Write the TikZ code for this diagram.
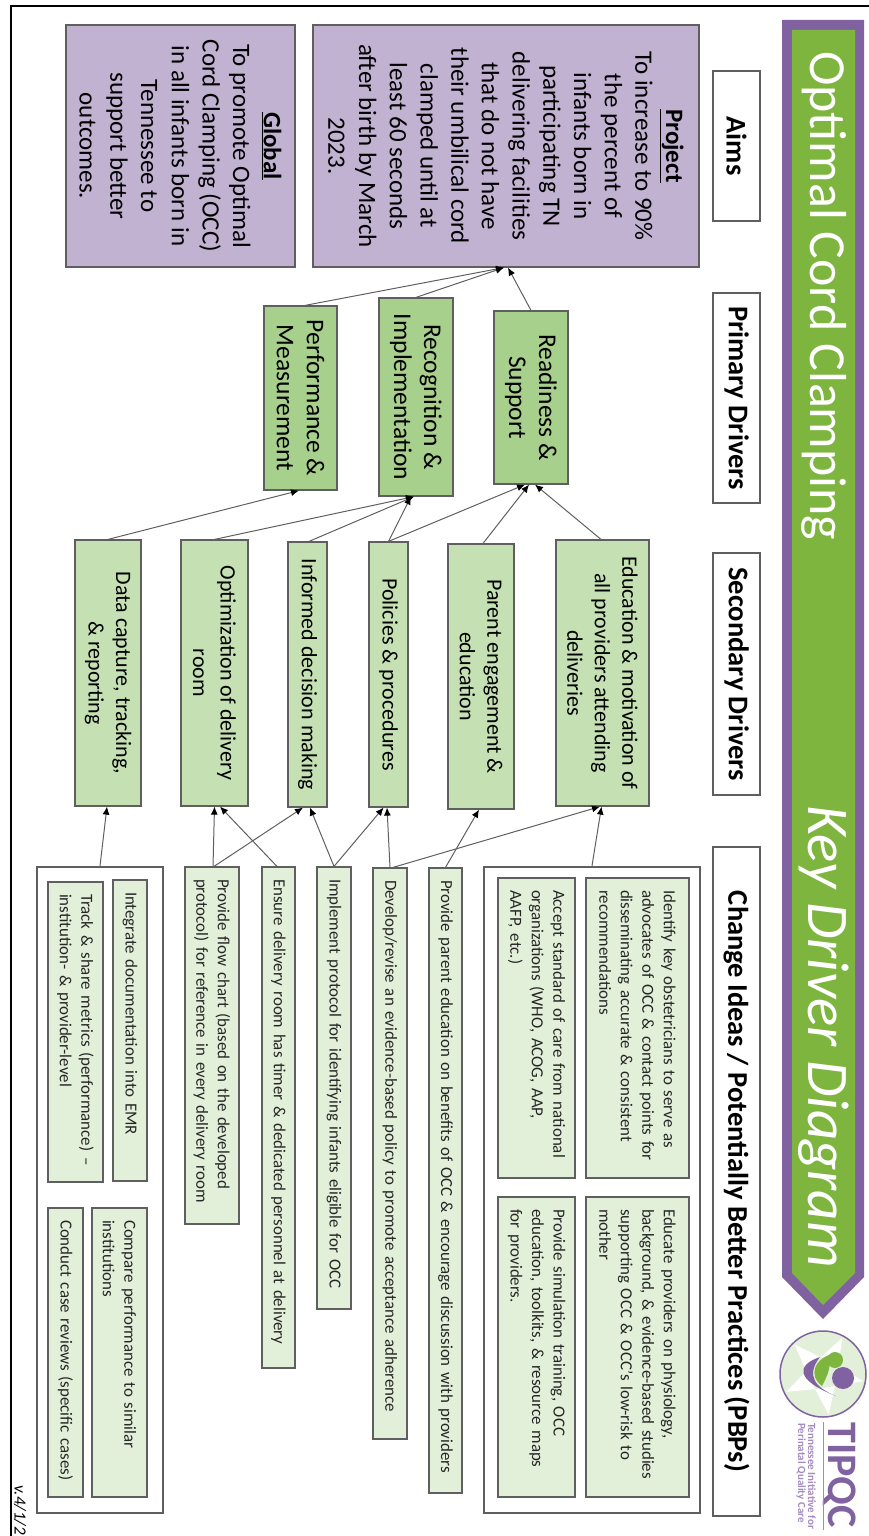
\documentclass[tikz,border=0pt]{standalone}
\usepackage{fontspec}
\setmainfont{Carlito}
\usetikzlibrary{arrows.meta}
\definecolor{banner}{HTML}{7DB53F}
\definecolor{bannerEdge}{HTML}{8062A0}
\definecolor{aimFill}{HTML}{C1B2D2}
\definecolor{primaryFill}{HTML}{A8D08D}
\definecolor{secondaryFill}{HTML}{C5E0B3}
\definecolor{changeFill}{HTML}{E2EFD9}
\definecolor{edge}{HTML}{5F5F5F}
\definecolor{logoText}{HTML}{A48BC0}
\newcommand{\Project}{%
    \underline{\textbf{Project}}\\
    To increase to 90\%\\
    the percent of\\
    infants born in\\
    participating TN\\
    delivering facilities\\
    that do not have\\
    their umbilical cord\\
    clamped until at\\
    least 60 seconds\\
    after birth by March\\
    2023.%
}
\newcommand{\Global}{%
    \underline{\textbf{Global}}\\
    To promote Optimal\\
    Cord Clamping (OCC)\\
    in all infants born in\\
    Tennessee to\\
    support better\\
    outcomes.%
}
\newcommand{\Readiness}{Readiness \&\\Support}
\newcommand{\Recognition}{Recognition \&\\Implementation}
\newcommand{\Performance}{Performance \&\\Measurement}
\newcommand{\Education}{Education \& motivation of\\all providers attending\\deliveries}
\newcommand{\Parent}{Parent engagement \&\\education}
\newcommand{\Policies}{Policies \& procedures}
\newcommand{\Informed}{Informed decision making}
\newcommand{\Optimization}{Optimization of delivery\\room}
\newcommand{\DataCapture}{Data capture, tracking,\\\& reporting}
\newcommand{\Identify}{%
    Identify key obstetricians to serve as\\
    advocates of OCC \& contact points for\\
    disseminating accurate \& consistent\\
    recommendations%
}
\newcommand{\Accept}{%
    Accept standard of care from national\\
    organizations (WHO, ACOG, AAP,\\
    AAFP, etc.)%
}
\newcommand{\Educate}{%
    Educate providers on physiology,\\
    background, \& evidence-based studies\\
    supporting OCC \& OCC's low-risk to\\
    mother%
}
\newcommand{\Simulation}{%
    Provide simulation training, OCC\\
    education, toolkits, \& resource maps\\
    for providers.%
}
\newcommand{\ProvideParent}{Provide parent education on benefits of OCC \& encourage discussion with providers}
\newcommand{\Develop}{Develop/revise an evidence-based policy to promote acceptance adherence}
\newcommand{\Implement}{Implement protocol for identifying infants eligible for OCC}
\newcommand{\Ensure}{Ensure delivery room has timer \& dedicated personnel at delivery}
\newcommand{\FlowChart}{Provide flow chart (based on the developed\\protocol) for reference in every delivery room}
\newcommand{\Integrate}{Integrate documentation into EMR}
\newcommand{\Track}{Track \& share metrics (performance) --\\institution- \& provider-level}
\newcommand{\Compare}{Compare performance to similar\\institutions}
\newcommand{\Conduct}{Conduct case reviews (specific cases)}

\begin{document}
\begin{tikzpicture}[x=1pt,y=-1pt,
                    dims/.style 2 args={
                        minimum width=#1pt,
                        minimum height=#2pt
                    },
                    turned/.style={
                        rotate=-90,
                        inner sep=0pt,
                        align=center
                    },
                    head/.style={
                        turned,
                        draw=edge,
                        fill=white,
                        line width=1.2pt,
                        font=\fontsize{28.5}{30}\selectfont\bfseries
                    },
                    aim/.style={
                        turned,
                        draw=edge,
                        fill=aimFill,
                        line width=1.2pt,
                        font=\fontsize{25}{30.7}\selectfont
                    },
                    primary/.style={
                        turned,
                        draw=edge,
                        fill=primaryFill,
                        line width=1.2pt,
                        font=\fontsize{25.5}{30}\selectfont
                    },
                    secondary/.style={
                        turned,
                        draw=edge,
                        fill=secondaryFill,
                        line width=1.2pt,
                        font=\fontsize{22}{27.5}\selectfont
                    },
                    change/.style 2 args={
                        turned,
                        draw=edge,
                        fill=changeFill,
                        line width=1.2pt,
                        dims={#1}{#2},
                        align=left,
                        inner xsep=12pt,
                        text width=#1pt-24pt,
                        text=black!85,
                        font=\fontsize{16.9}{21.5}\selectfont
                    },
                    group/.style={
                        turned,
                        draw=edge,
                        line width=2.5pt
                    },
                    link/.style={
                        draw=edge,
                        line width=1pt,
                        -{Latex[color=black,length=8pt,width=7pt]}
                    }]

    \useasboundingbox (0,0) rectangle (869,1536);
    \draw[line width=2pt] (11,1536) |- (869,6);

    \fill[bannerEdge] (782,20) -- (864,20) -- (864,1277) -- (823,1319) -- (782,1277) -- cycle;
    \fill[banner] (792,30) -- (855,30) -- (855,1273) -- (823,1305) -- (792,1273) -- cycle;
    \node[turned, anchor=west, text=white, font=\fontsize{52}{54}\selectfont] (title) at (824,51) {Optimal Cord Clamping};
    \node[turned, anchor=west, text=white, font=\fontsize{59}{60}\selectfont\itshape] (subtitle) at (824,805) {Key Driver Diagram};

    \node[circle, draw=bannerEdge, fill=changeFill, line width=1.5pt, minimum size=86pt, inner sep=0pt] (logo) at (823,1374) {};
    \foreach \a in {10,82,154,226,298}
        \fill[white] ([shift={(\a:41)}]logo.center) -- ([shift={(\a+36:17)}]logo.center) -- ([shift={(\a-36:17)}]logo.center) -- cycle;
    \fill[bannerEdge] (820,1357) .. controls (796,1365) and (795,1380) .. (836,1396) .. controls (816,1388) and (805,1376) .. (820,1357);
    \fill[banner] (829,1355) .. controls (815,1360) and (808,1375) .. (822,1386) .. controls (826,1378) and (832,1368) .. (829,1355);
    \fill[banner] (835,1360) circle (8);
    \fill[bannerEdge] (843,1378) circle (11);
    \node[turned, anchor=west, text=bannerEdge, font=\fontsize{42}{42}\selectfont\bfseries] (tipqc) at (840,1422) {TIPQC};
    \draw[banner, line width=1pt] (823,1422) -- (823,1530);
    \node[turned, anchor=west, text=logoText, font=\fontsize{11}{12}\selectfont\bfseries] (tagA) at (812,1423) {Tennessee Initiative for};
    \node[turned, anchor=west, text=logoText, font=\fontsize{11}{12}\selectfont\bfseries] (tagB) at (801,1423) {Perinatal Quality Care};

    \node[head, dims={150}{47}] (h1) at (736.5,146) {Aims};
    \node[head, dims={210}{47}] (h2) at (736.5,398) {Primary Drivers};
    \node[head, dims={242}{47}] (h3) at (736.5,674) {Secondary Drivers};
    \node[head, dims={669}{47}] (h4) at (736.5,1181.5) {Change Ideas / Potentially Better Practices (PBPs)};

    \node[aim, dims={242}{386}] (a1) at (506,146) {\Project};
    \node[aim, dims={242}{229}] (a2) at (180.5,146) {\Global};

    \node[primary, dims={173}{74}] (p1) at (531,397.5) {\Readiness};
    \node[primary, dims={198}{74}] (p2) at (416,397) {\Recognition};
    \node[primary, dims={184}{73}] (p3) at (300.5,398) {\Performance};

    \node[secondary, dims={266}{93}] (s1) at (602.5,673) {\Education};
    \node[secondary, dims={265}{66}] (s2) at (481,676.5) {\Parent};
    \node[secondary, dims={265}{39}] (s3) at (388.5,674.5) {\Policies};
    \node[secondary, dims={265}{39}] (s4) at (307.5,674.5) {\Informed};
    \node[secondary, dims={266}{67}] (s5) at (214.5,673) {\Optimization};
    \node[secondary, dims={266}{66}] (s6) at (108,673) {\DataCapture};

    \node[group, dims={646}{216}] (c1) at (592,1190) {};
    \node[change={300}{103}] (c1a) at (637.5,1028) {\Identify};
    \node[change={300}{77}] (c1b) at (536.5,1028) {\Accept};
    \node[change={300}{103}] (c1c) at (637.5,1347) {\Educate};
    \node[change={300}{77}] (c1d) at (536.5,1347) {\Simulation};
    \node[change={625}{33}] (c2) at (445.5,1180.5) {\ProvideParent};
    \node[change={571}{34}] (c3) at (390,1153.5) {\Develop};
    \node[change={442}{34}] (c4) at (334,1088) {\Implement};
    \node[change={501}{33}] (c5) at (278.5,1117.5) {\Ensure};
    \node[change={357}{54}] (c6) at (212,1045.5) {\FlowChart};
    \node[group, dims={646}{126}] (c7) at (100,1190) {};
    \node[change={301}{34}] (c7a) at (130,1030.5) {\Integrate};
    \node[change={300}{55}] (c7b) at (75.5,1032) {\Track};
    \node[change={289}{55}] (c7c) at (119.5,1352.5) {\Compare};
    \node[change={289}{35}] (c7d) at (65.5,1352.5) {\Conduct};

    \draw[link] (p1.west) -- ([xshift=2pt]a1.east);
    \draw[link] (p2.west) -- ([xshift=-2pt]a1.east);
    \draw[link] ([xshift=4.5pt]p3.west) -- ([xshift=-2pt]a1.east);

    \draw[link] ([xshift=-1.5pt]s1.west) -- ([xshift=4pt]p1.east);
    \draw[link] ([xshift=2pt]s2.west) -- ([xshift=-2pt]p1.east);
    \draw[link] (s3.west) -- ([xshift=-6pt]p1.east);
    \draw[link] (s3.west) -- ([xshift=-5pt]p2.east);
    \draw[link] ([xshift=1.5pt]s4.west) -- ([xshift=-2pt]p2.east);
    \draw[link] (s5.west) -- ([xshift=-2pt]p2.east);
    \draw[link] (s6.west) -- ([xshift=-1.5pt]p3.east);

    \draw[link] (c1.west) -- ([xshift=-1pt]s1.east);
    \draw[link] (c2.west) -- ([xshift=-2pt]s2.east);
    \draw[link] (c3.west) -- ([xshift=-1.5pt]s3.east);
    \draw[link] ([xshift=3pt]c3.west) -- ([xshift=-2.5pt]s1.east);
    \draw[link] (c4.west) -- ([xshift=-5pt]s3.east);
    \draw[link] (c4.west) -- ([xshift=2.5pt]s4.east);
    \draw[link] ([xshift=-1.5pt]c5.west) -- ([xshift=5.5pt]s5.east);
    \draw[link] ([xshift=1pt]c6.west) -- (s5.east);
    \draw[link] ([xshift=2pt]c6.west) -- ([xshift=-4.5pt]s4.east);
    \draw[link] (c7.west) -- ([xshift=-1pt]s6.east);

    \node[turned, anchor=west, font=\fontsize{17}{18}\selectfont\itshape] (version) at (20,1485) {v.4/1/2};

\end{tikzpicture}
\end{document}
